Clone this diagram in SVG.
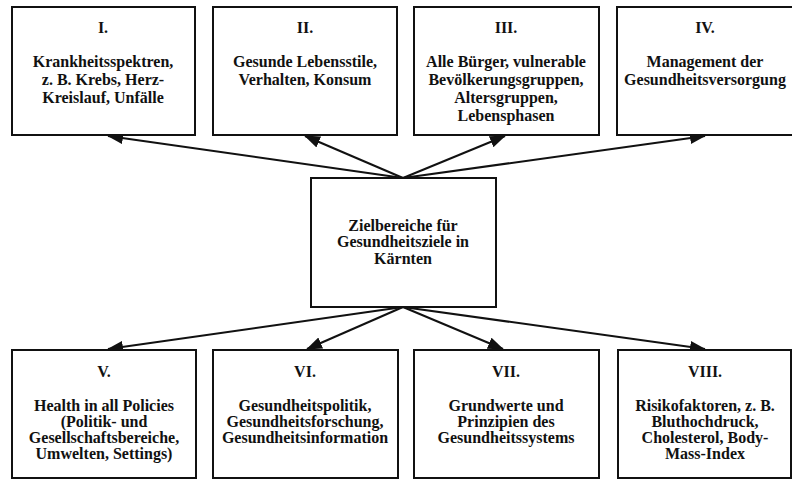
<svg xmlns="http://www.w3.org/2000/svg" width="792" height="479" viewBox="0 0 792 479">
<style>
.box{fill:#fff;stroke:#111;stroke-width:2}
.t{font-family:"Liberation Serif","Times New Roman",serif;font-weight:bold;font-size:16px;fill:#111;text-anchor:middle}
.c{stroke:#111;stroke-width:2;fill:none;marker-end:url(#ah)}
</style>
<defs>
<marker id="ah" markerUnits="userSpaceOnUse" markerWidth="16" markerHeight="12" refX="15" refY="6" orient="auto">
<path d="M0,0 L16,6 L0,12 z" fill="#111"/>
</marker>
</defs>
<rect width="792" height="479" fill="#fff"/>
<g id="connectors">
<line class="c" x1="403" y1="178" x2="108" y2="136"/>
<line class="c" x1="403" y1="178" x2="305" y2="136"/>
<line class="c" x1="403" y1="178" x2="505" y2="136"/>
<line class="c" x1="403" y1="178" x2="705" y2="136"/>
<line class="c" x1="403" y1="307" x2="108" y2="349"/>
<line class="c" x1="403" y1="307" x2="307" y2="349"/>
<line class="c" x1="403" y1="307" x2="503" y2="349"/>
<line class="c" x1="403" y1="307" x2="705" y2="349"/>
</g>
<g id="center">
<rect class="box" x="311" y="178" width="185" height="129"/>
<text class="t" x="403" y="231">Zielbereiche für</text>
<text class="t" x="403" y="247">Gesundheitsziele in</text>
<text class="t" x="403" y="264">Kärnten</text>
</g>
<g id="n1">
<rect class="box" x="12" y="7" width="183" height="128"/>
<text class="t" x="103" y="33">I.</text>
<text class="t" x="103" y="67">Krankheitsspektren,</text>
<text class="t" x="103" y="85">z. B. Krebs, Herz-</text>
<text class="t" x="103" y="103">Kreislauf, Unfälle</text>
</g>
<g id="n2">
<rect class="box" x="213" y="7" width="184" height="128"/>
<text class="t" x="305" y="33">II.</text>
<text class="t" x="305" y="67">Gesunde Lebensstile,</text>
<text class="t" x="305" y="85">Verhalten, Konsum</text>
</g>
<g id="n3">
<rect class="box" x="414" y="7" width="185" height="128"/>
<text class="t" x="506" y="33">III.</text>
<text class="t" x="506" y="67">Alle Bürger, vulnerable</text>
<text class="t" x="506" y="85">Bevölkerungsgruppen,</text>
<text class="t" x="506" y="103">Altersgruppen,</text>
<text class="t" x="506" y="121">Lebensphasen</text>
</g>
<g id="n4">
<rect class="box" x="617" y="7" width="184" height="128"/>
<text class="t" x="705" y="33">IV.</text>
<text class="t" x="705" y="67">Management der</text>
<text class="t" x="705" y="85">Gesundheitsversorgung</text>
</g>
<g id="n5">
<rect class="box" x="12" y="350" width="184" height="128"/>
<text class="t" x="104" y="377">V.</text>
<text class="t" x="104" y="411">Health in all Policies</text>
<text class="t" x="104" y="427">(Politik- und</text>
<text class="t" x="104" y="443">Gesellschaftsbereiche,</text>
<text class="t" x="104" y="459">Umwelten, Settings)</text>
</g>
<g id="n6">
<rect class="box" x="213" y="350" width="185" height="128"/>
<text class="t" x="305" y="377">VI.</text>
<text class="t" x="305" y="411">Gesundheitspolitik,</text>
<text class="t" x="305" y="427">Gesundheitsforschung,</text>
<text class="t" x="305" y="443">Gesundheitsinformation</text>
</g>
<g id="n7">
<rect class="box" x="414" y="350" width="185" height="128"/>
<text class="t" x="506" y="377">VII.</text>
<text class="t" x="506" y="411">Grundwerte und</text>
<text class="t" x="506" y="427">Prinzipien des</text>
<text class="t" x="506" y="443">Gesundheitssystems</text>
</g>
<g id="n8">
<rect class="box" x="618" y="350" width="173" height="128"/>
<text class="t" x="705" y="377">VIII.</text>
<text class="t" x="705" y="411">Risikofaktoren, z. B.</text>
<text class="t" x="705" y="427">Bluthochdruck,</text>
<text class="t" x="705" y="443">Cholesterol, Body-</text>
<text class="t" x="705" y="459">Mass-Index</text>
</g>
</svg>
